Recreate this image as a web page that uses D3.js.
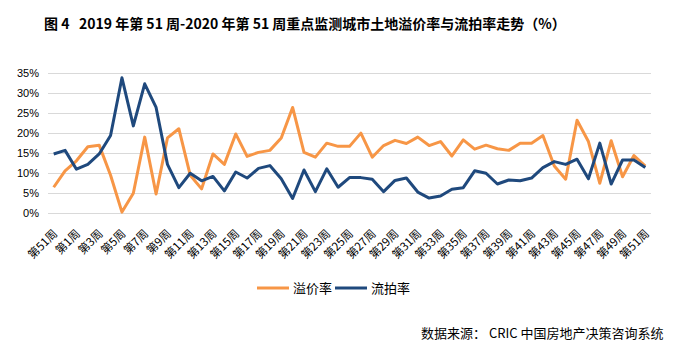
<!DOCTYPE html>
<html>
<head>
<meta charset="utf-8">
<script src="https://cdn.jsdelivr.net/npm/d3@7/dist/d3.min.js"></script>
<style>
  body { margin: 0; background: #fff; }
  svg { display: block; }
  .title { white-space: pre; }
</style>
</head>
<body>
<div id="vis"></div>
<script>
// weeks: 2019 W51, W52, then 2020 W1 .. W51
const weeks = [51, 52].concat(d3.range(1, 52));
const categories = weeks.map((w, i) => i + "_" + w);

const premiumRate = [
  6.5, 10.6, 13.1, 16.6, 17.0, 9.5, 0.3, 5.0, 19.0, 4.8,
  18.8, 21.1, 9.5, 6.1, 14.8, 12.2, 19.8, 14.2, 15.2, 15.7,
  18.8, 26.4, 15.2, 14.0, 17.5, 16.7, 16.7, 20.0, 14.0, 16.9,
  18.2, 17.4, 19.0, 16.9, 17.9, 14.3, 18.3, 16.0, 17.0, 16.1,
  15.7, 17.5, 17.5, 19.4, 11.8, 8.5, 23.2, 17.9, 7.5, 18.1,
  9.1, 14.4, 11.8
];

const unsoldRate = [
  14.8, 15.7, 11.0, 12.2, 14.8, 19.4, 33.8, 21.8, 32.3, 26.4,
  12.2, 6.4, 10.0, 8.1, 9.2, 5.6, 10.3, 8.8, 11.2, 11.9,
  8.6, 3.7, 10.8, 5.4, 11.1, 6.5, 8.9, 8.9, 8.5, 5.4,
  8.2, 8.8, 5.3, 3.8, 4.3, 6.0, 6.4, 10.6, 10.0, 7.3,
  8.3, 8.1, 8.8, 11.4, 12.9, 12.2, 13.5, 8.6, 17.5, 7.3,
  13.3, 13.3, 11.4
];

const yTicks = [0, 5, 10, 15, 20, 25, 30, 35];

const series = [
  { name: "溢价率", values: premiumRate, color: "#F79646" },
  { name: "流拍率", values: unsoldRate, color: "#1F497D" }
];

const width = 677, height = 345;
const margin = { top: 73, right: 26, bottom: 132, left: 48 };

const svg = d3.select("#vis")
  .append("svg")
  .attr("width", width)
  .attr("height", height);

const x = d3.scalePoint()
  .domain(categories)
  .range([margin.left, width - margin.right])
  .padding(0.5);

const y = d3.scaleLinear()
  .domain([0, 35])
  .range([height - margin.bottom + 0.3, margin.top]);

// title
svg.append("text")
  .attr("class", "title")
  .attr("x", 44)
  .attr("y", 29)
  .attr("font-family", "'Noto Sans CJK SC', sans-serif")
  .attr("font-weight", "bold")
  .attr("font-size", 14)
  .attr("fill", "#000")
  .text("图 4   2019 年第 51 周-2020 年第 51 周重点监测城市土地溢价率与流拍率走势（%）");

// gridlines
svg.append("g")
  .selectAll("line")
  .data(yTicks)
  .enter()
  .append("line")
  .attr("x1", margin.left)
  .attr("x2", width - margin.right)
  .attr("y1", d => Math.round(y(d)) + 0.5)
  .attr("y2", d => Math.round(y(d)) + 0.5)
  .attr("stroke", "#d9d9d9")
  .attr("stroke-width", 1);

// y axis labels
const yAxis = svg.append("g")
  .attr("transform", "translate(" + (margin.left - 9) + ",0)")
  .call(d3.axisLeft(y).tickValues(yTicks).tickSize(0).tickFormat(d => d + "%"));
yAxis.select(".domain").remove();
yAxis.selectAll("text")
  .attr("x", 0)
  .attr("font-family", "'Liberation Sans', sans-serif")
  .attr("font-size", 11)
  .attr("fill", "#000");

// x axis labels (every other week)
const xAxis = svg.append("g")
  .attr("transform", "translate(0," + (y(0) + 12) + ")")
  .call(d3.axisBottom(x)
    .tickValues(categories.filter((d, i) => i % 2 === 0))
    .tickSize(0)
    .tickFormat(d => "第" + d.split("_")[1] + "周"));
xAxis.select(".domain").remove();
xAxis.selectAll("text")
  .attr("text-anchor", "end")
  .attr("dy", "0.35em")
  .attr("transform", "translate(-1,4) rotate(-45)")
  .attr("font-family", "'Noto Sans CJK SC', sans-serif")
  .attr("font-size", 11.5)
  .attr("fill", "#000");

// lines
const line = d3.line()
  .x((d, i) => x(categories[i]))
  .y(d => y(d));

svg.append("g")
  .selectAll("path")
  .data(series)
  .enter()
  .append("path")
  .attr("d", d => line(d.values))
  .attr("fill", "none")
  .attr("stroke", d => d.color)
  .attr("stroke-width", 3)
  .attr("stroke-linejoin", "round");

// legend
const legend = svg.append("g")
  .selectAll("g")
  .data(series)
  .enter()
  .append("g")
  .attr("transform", (d, i) => "translate(" + (257 + i * 78) + ",288)");

legend.append("line")
  .attr("x1", 0)
  .attr("x2", 32)
  .attr("stroke", d => d.color)
  .attr("stroke-width", 3);

legend.append("text")
  .attr("x", 36)
  .attr("dy", "0.35em")
  .attr("font-family", "'Noto Sans CJK SC', sans-serif")
  .attr("font-size", 13)
  .attr("fill", "#000")
  .text(d => d.name);

// source note
svg.append("text")
  .attr("x", 421)
  .attr("y", 338)
  .attr("font-family", "'Noto Sans CJK SC', sans-serif")
  .attr("font-size", 13)
  .attr("fill", "#000")
  .text("数据来源： CRIC 中国房地产决策咨询系统");
</script>
</body>
</html>
